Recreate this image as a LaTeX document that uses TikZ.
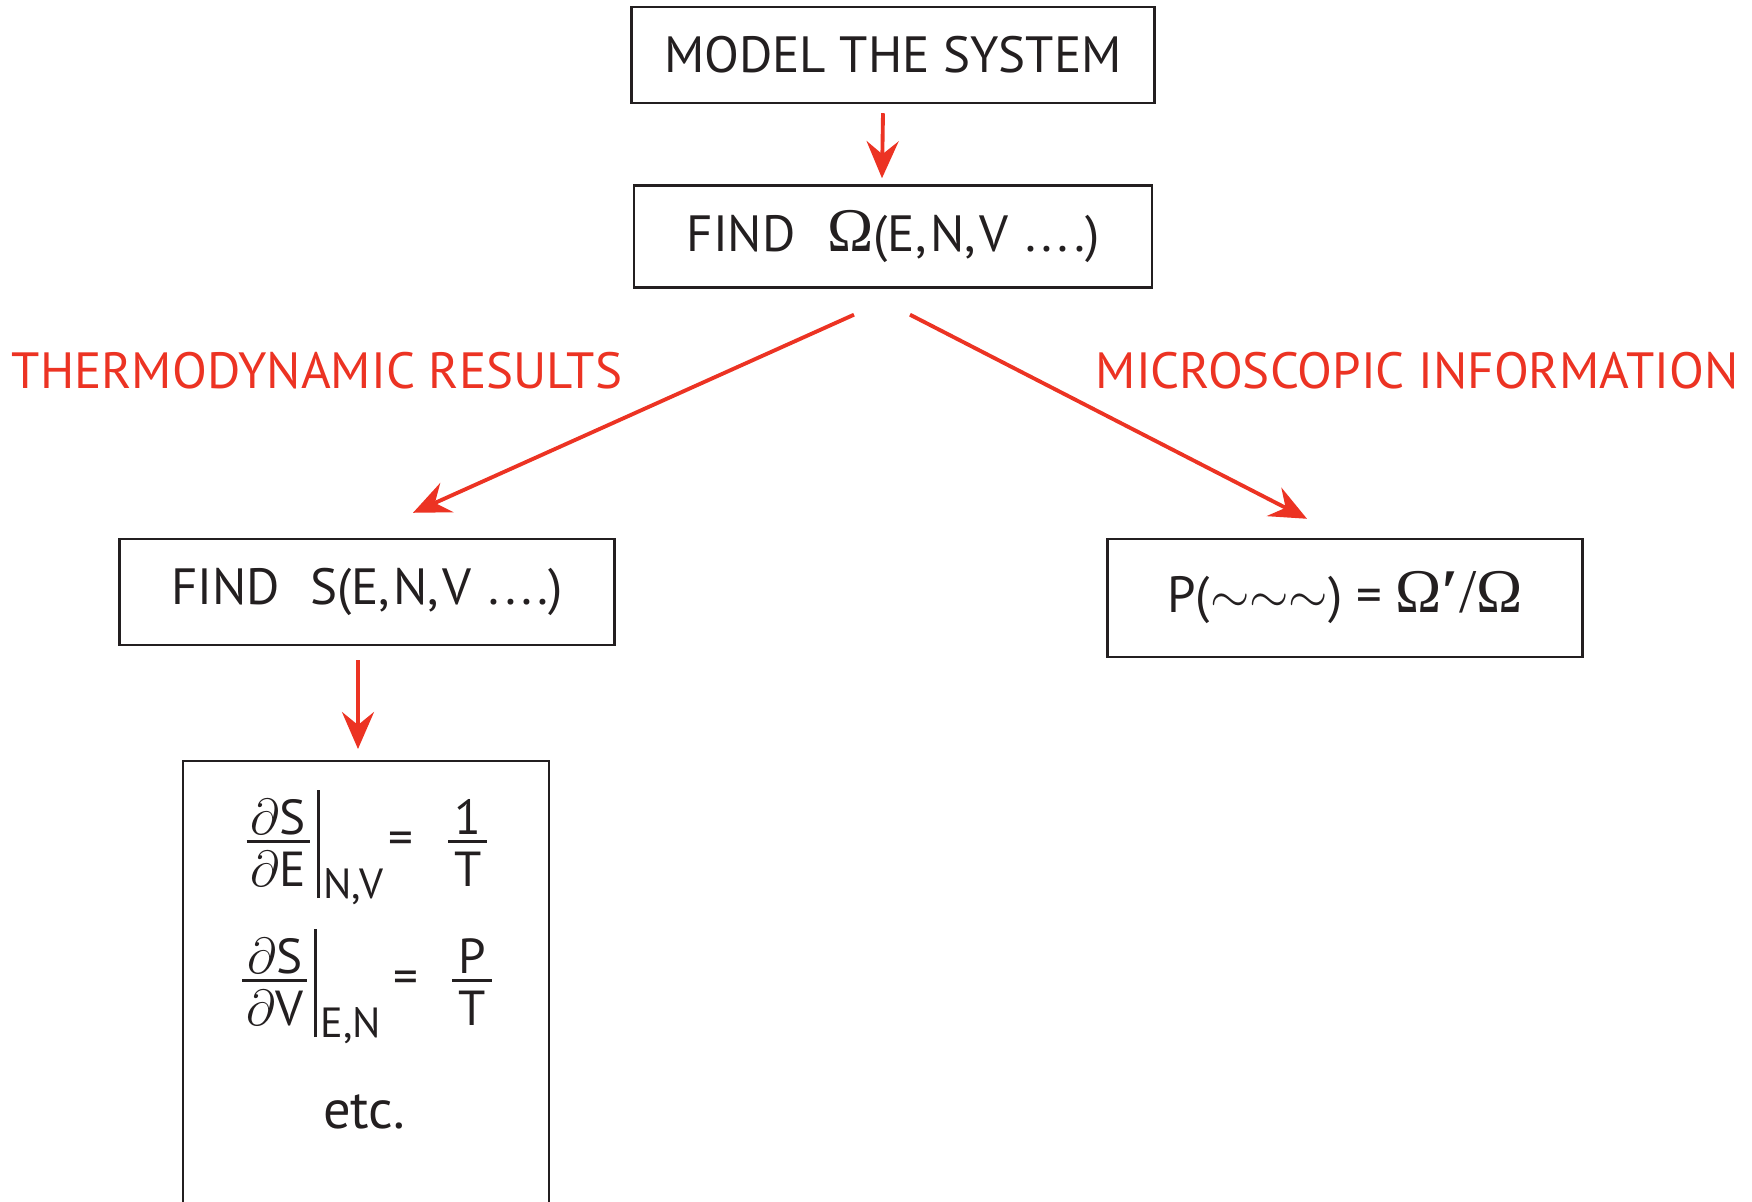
\documentclass[tikz,border=0pt]{standalone}
\usepackage{amsmath}
\usepackage{fontspec}
\setmainfont{PT Sans}
\newfontfamily\omegafont[Scale=1.22]{Liberation Serif}
\definecolor{Signal}{HTML}{EC3323}
\definecolor{Ink}{HTML}{231F20}
\usetikzlibrary{arrows.meta,positioning}
% tight fraction with full-size numerator and denominator, #1 = side padding
\newcommand{\pfrac}[3][0.4mm]{{\hbox{\hspace{#1}\rule[-0.3mm]{0pt}{1mm}#2\hspace{#1}}\above 0.8pt\hbox{\hspace{#1}\rule{0pt}{4.05mm}#3\hspace{#1}}}}
\newcommand{\evalbar}{\hspace{0.3mm}\rule[-4.4mm]{0.7pt}{10.8mm}\hspace{0.4mm}}
\newcommand{\subfont}{\fontsize{12}{14}\selectfont}
\newcommand{\argsENV}{(E,\kern1pt N,\kern1pt V\ \kern1pt.\kern1.5pt.\kern1.5pt.\kern1.5pt.)}

\begin{document}
\begin{tikzpicture}[
  x=0.1mm,y=-0.1mm,
  font=\fontsize{14.5}{17}\selectfont,
  stepbox/.style={draw=Ink,line width=.7pt,inner sep=0pt,text=Ink},
  eqline/.style={anchor=base,inner sep=0pt,text=Ink,font=\fontsize{14}{16}\selectfont},
  flow/.style={-{Stealth[length=3.7mm,width=3.2mm,inset=1.3mm]},line width=1.1pt,draw=Signal},
  branch/.style={text=Signal}
]
\useasboundingbox (0,0) rectangle (1752,1202);
\clip (0,0) rectangle (1752,1202);
\node[stepbox,minimum width=52.3mm,minimum height=9.6mm] (model) at (893,55) {MODEL THE SYSTEM};
\node[stepbox,minimum width=51.8mm,minimum height=10.2mm,below=8mm of model] (omega) {FIND\hspace{3.2mm}{\omegafont Ω}\argsENV};
\node[stepbox,minimum width=49.5mm,minimum height=10.6mm] (sfind) at (367,592) {FIND\hspace{3mm}S\argsENV};
\node[stepbox,minimum width=47.5mm,minimum height=11.8mm] (prob) at (1345,598) {P($\mathord{\sim}\mathord{\sim}\mathord{\sim}$) = {\omegafont Ω{\bfseries ′}/Ω}};
\node[stepbox,minimum width=36.6mm,minimum height=50mm,anchor=north] (derivs) at (366,760) {};
\node[eqline] (dSdE) at (367,854) {$\pfrac{$\partial$S}{$\partial$E}\evalbar$\raisebox{-4.4mm}{\subfont N,V}\hspace{0.6mm}=\hspace{3mm}$\pfrac[0.6mm]{1}{T}$};
\node[eqline] (dSdV) at (367,993) {$\pfrac{$\partial$S}{$\partial$V}\evalbar$\raisebox{-4.4mm}{\subfont E,N}\hspace{1.2mm}=\hspace{3mm}$\pfrac[0.6mm]{P}{T}$};
\node[eqline,font=\fontsize{15.5}{18}\selectfont] (etc) at (364,1128) {etc.};
\node[branch] (thermo) at (317,371) {THERMODYNAMIC RESULTS};
\node[branch] (micro) at (1417,371) {MICROSCOPIC INFORMATION};
\draw[flow] ([xshift=-1mm,yshift=-0.9mm]model.south) -- ([xshift=-1.1mm,yshift=0.6mm]omega.north);
\draw[flow] ([xshift=-3.9mm,yshift=-2.6mm]omega.south) -- ([xshift=4.6mm,yshift=2.5mm]sfind.north);
\draw[flow] ([xshift=1.7mm,yshift=-2.6mm]omega.south) -- ([xshift=-3.8mm,yshift=1.9mm]prob.north);
\draw[flow] ([xshift=-0.9mm,yshift=-1.4mm]sfind.south) -- ([xshift=-0.8mm,yshift=1.1mm]derivs.north);
\end{tikzpicture}
\end{document}
